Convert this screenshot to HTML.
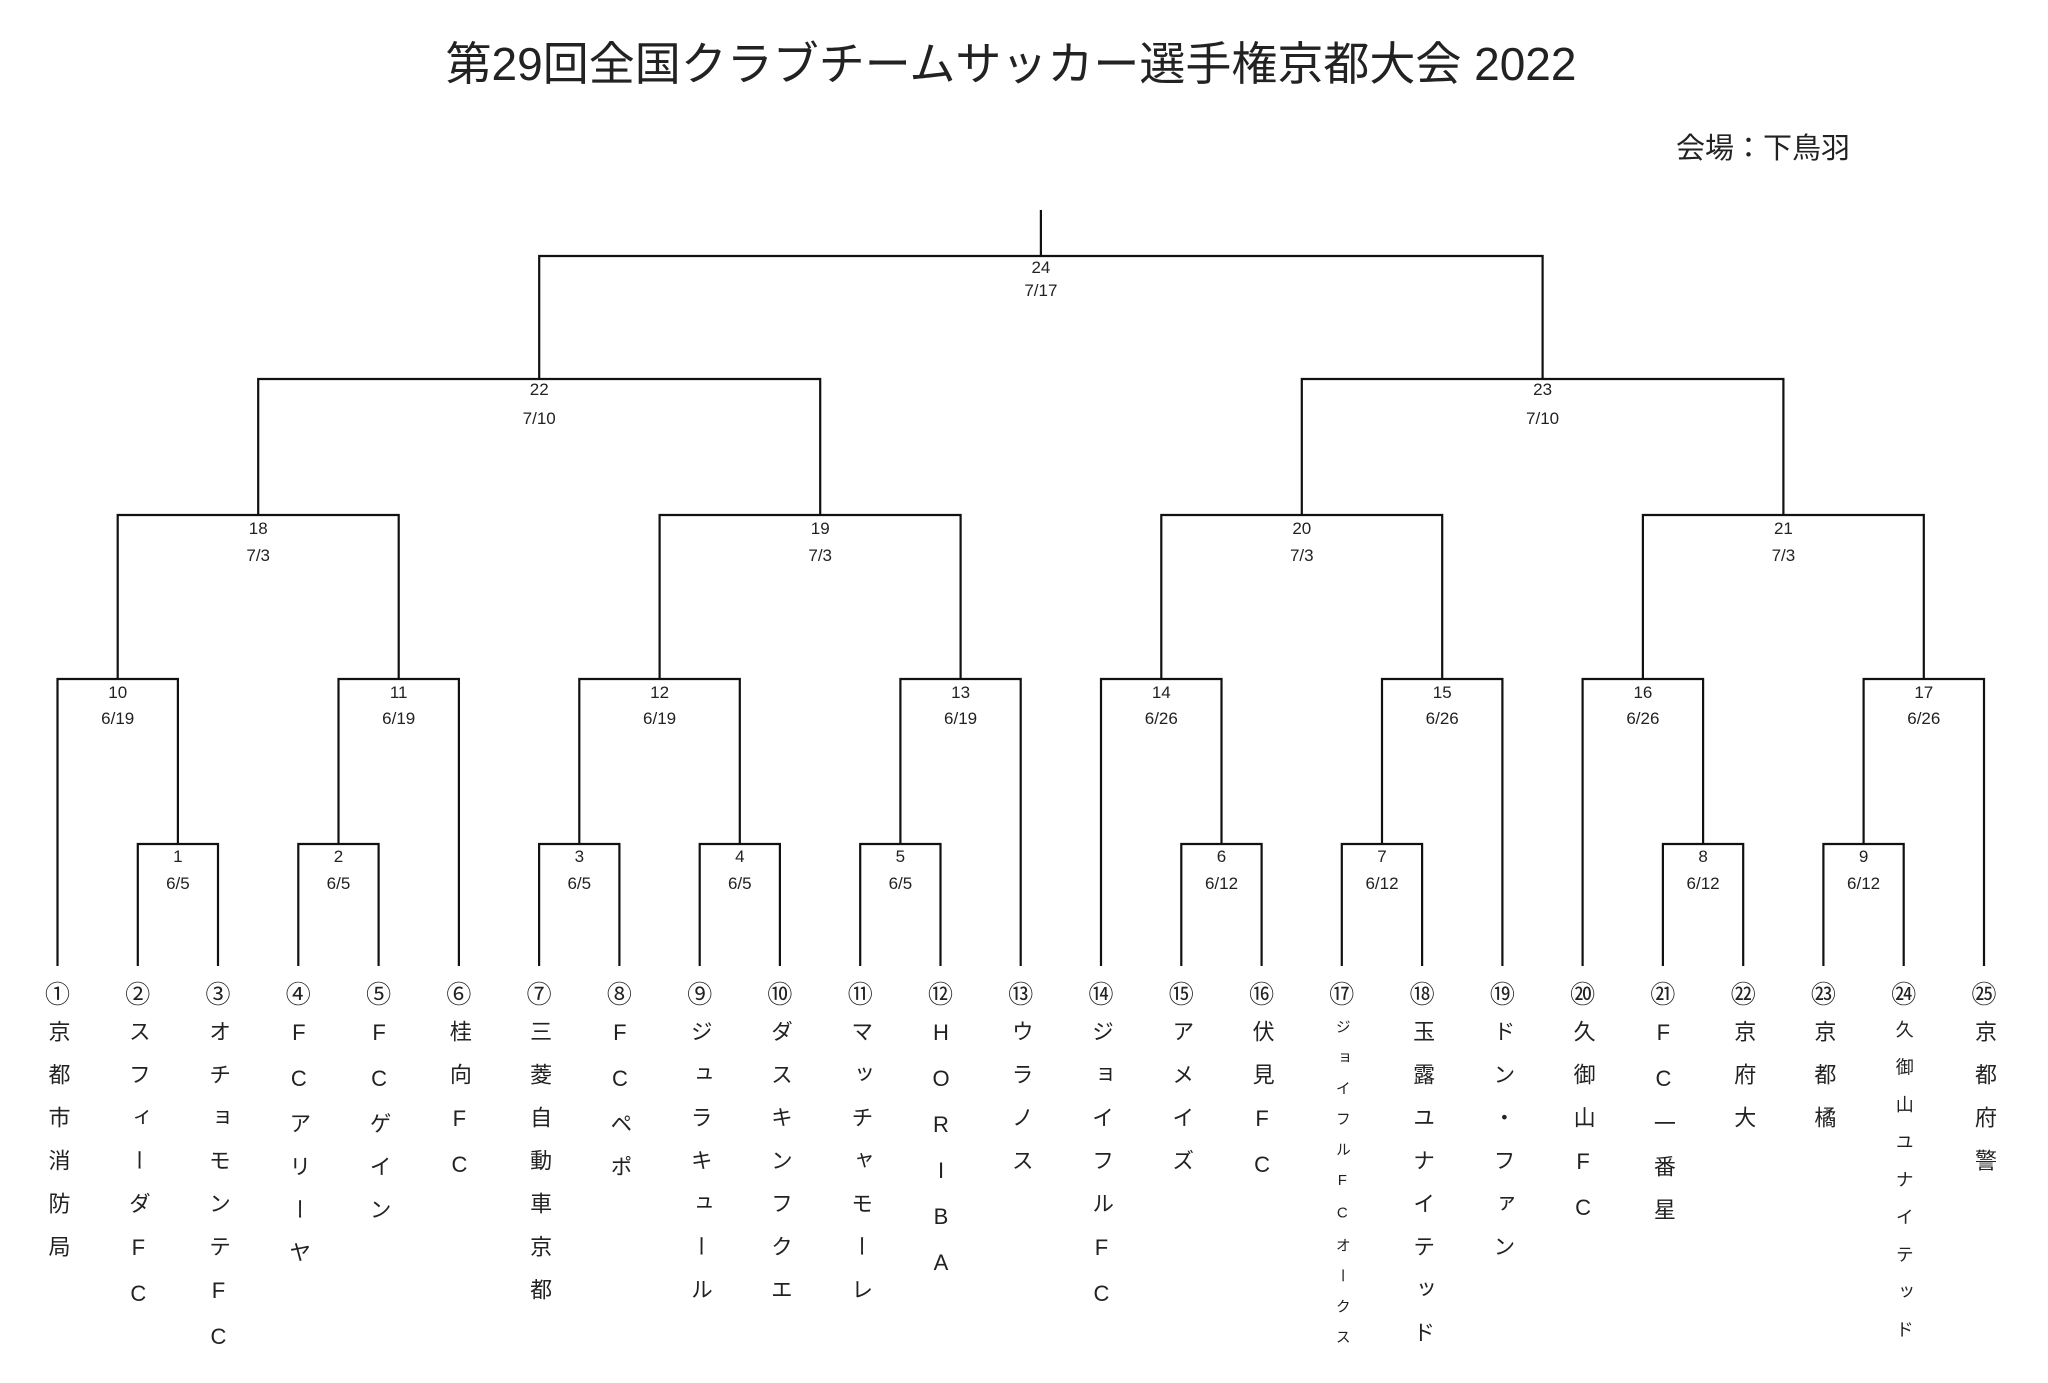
<!DOCTYPE html>
<html><head><meta charset="utf-8">
<style>
html,body{margin:0;padding:0;background:#fff;}
body{width:2048px;height:1383px;position:relative;overflow:hidden;font-family:"Liberation Sans","Noto Sans CJK JP",sans-serif;color:#222;}
.t{position:absolute;white-space:nowrap;}
.v{position:absolute;top:1020px;width:30px;line-height:30px;writing-mode:vertical-rl;text-orientation:upright;font-size:22px;letter-spacing:21px;font-family:"Liberation Sans","Noto Sans CJK JP",sans-serif;color:#222;}
.s{font-size:15px;letter-spacing:15.6px;top:1019px;}
.m{font-size:18px;letter-spacing:19.5px;top:1020px;}
</style></head><body>
<div class="t" style="left:0;width:2022px;text-align:center;top:28px;font-size:46px;">第29回全国クラブチームサッカー選手権京都大会 2022</div>
<div class="t" style="left:1676px;top:125px;font-size:29px;">会場：下鳥羽</div>
<svg width="2048" height="1383" style="position:absolute;left:0;top:0" xmlns="http://www.w3.org/2000/svg">
<g stroke="#111" stroke-width="2.2" fill="none">
<path d="M1040.9 210V256M539.2 379V256H1542.6V379"/>
<path d="M258.2 515V379H820.2V515M1301.8 515V379H1783.4V515"/>
<path d="M117.7 679V515H398.7V679M659.6 679V515H960.6V679M1161.3 679V515H1442.2V679M1642.9 679V515H1923.8V679"/>
<path d="M57.5 966V679H177.9V844M338.5 844V679H458.9V966M579.3 844V679H739.8V844M900.4 844V679H1020.7V966M1101 966V679H1221.5V844M1382 844V679H1502.4V966M1582.6 966V679H1703.1V844M1863.6 844V679H1984V966"/>
<path d="M137.8 966V844H218V966M298.3 966V844H378.6V966M539.1 966V844H619.4V966M699.7 966V844H779.9V966M860.2 966V844H940.5V966M1181.3 966V844H1261.6V966M1341.8 966V844H1422.1V966M1662.9 966V844H1743.2V966M1823.4 966V844H1903.7V966"/>
</g>
<g font-family="Liberation Sans, sans-serif" font-size="17" fill="#222" text-anchor="middle">
<text x="1040.9" y="273">24</text><text x="1040.9" y="296">7/17</text>
<text x="539.2" y="395">22</text><text x="539.2" y="424">7/10</text>
<text x="1542.6" y="395">23</text><text x="1542.6" y="424">7/10</text>
<text x="258.2" y="534">18</text><text x="258.2" y="561">7/3</text>
<text x="820.2" y="534">19</text><text x="820.2" y="561">7/3</text>
<text x="1301.8" y="534">20</text><text x="1301.8" y="561">7/3</text>
<text x="1783.4" y="534">21</text><text x="1783.4" y="561">7/3</text>
<text x="117.7" y="698">10</text><text x="117.7" y="724">6/19</text>
<text x="398.7" y="698">11</text><text x="398.7" y="724">6/19</text>
<text x="659.6" y="698">12</text><text x="659.6" y="724">6/19</text>
<text x="960.6" y="698">13</text><text x="960.6" y="724">6/19</text>
<text x="1161.3" y="698">14</text><text x="1161.3" y="724">6/26</text>
<text x="1442.2" y="698">15</text><text x="1442.2" y="724">6/26</text>
<text x="1642.9" y="698">16</text><text x="1642.9" y="724">6/26</text>
<text x="1923.8" y="698">17</text><text x="1923.8" y="724">6/26</text>
<text x="177.9" y="862">1</text><text x="177.9" y="889">6/5</text>
<text x="338.5" y="862">2</text><text x="338.5" y="889">6/5</text>
<text x="579.3" y="862">3</text><text x="579.3" y="889">6/5</text>
<text x="739.8" y="862">4</text><text x="739.8" y="889">6/5</text>
<text x="900.4" y="862">5</text><text x="900.4" y="889">6/5</text>
<text x="1221.5" y="862">6</text><text x="1221.5" y="889">6/12</text>
<text x="1382" y="862">7</text><text x="1382" y="889">6/12</text>
<text x="1703.1" y="862">8</text><text x="1703.1" y="889">6/12</text>
<text x="1863.6" y="862">9</text><text x="1863.6" y="889">6/12</text>
</g>
<g font-family="Noto Sans CJK JP, sans-serif" font-size="25" fill="#222" text-anchor="middle">
<text x="57.5" y="1003">①</text><text x="137.8" y="1003">②</text><text x="218" y="1003">③</text><text x="298.3" y="1003">④</text><text x="378.6" y="1003">⑤</text><text x="458.9" y="1003">⑥</text><text x="539.1" y="1003">⑦</text><text x="619.4" y="1003">⑧</text><text x="699.7" y="1003">⑨</text><text x="779.9" y="1003">⑩</text><text x="860.2" y="1003">⑪</text><text x="940.5" y="1003">⑫</text><text x="1020.7" y="1003">⑬</text><text x="1101" y="1003">⑭</text><text x="1181.3" y="1003">⑮</text><text x="1261.6" y="1003">⑯</text><text x="1341.8" y="1003">⑰</text><text x="1422.1" y="1003">⑱</text><text x="1502.4" y="1003">⑲</text><text x="1582.6" y="1003">⑳</text><text x="1662.9" y="1003">㉑</text><text x="1743.2" y="1003">㉒</text><text x="1823.4" y="1003">㉓</text><text x="1903.7" y="1003">㉔</text><text x="1984" y="1003">㉕</text>
</g>
</svg>
<div class="v" style="left:42.5px">京都市消防局</div>
<div class="v" style="left:122.8px">スフィーダFC</div>
<div class="v" style="left:203px">オチョモンテFC</div>
<div class="v" style="left:283.3px">FCアリーヤ</div>
<div class="v" style="left:363.6px">FCゲイン</div>
<div class="v" style="left:443.9px">桂向FC</div>
<div class="v" style="left:524.1px">三菱自動車京都</div>
<div class="v" style="left:604.4px">FCペポ</div>
<div class="v" style="left:684.7px">ジュラキュール</div>
<div class="v" style="left:764.9px">ダスキンフクエ</div>
<div class="v" style="left:845.2px">マッチャモーレ</div>
<div class="v" style="left:925.5px">HORIBA</div>
<div class="v" style="left:1005.7px">ウラノス</div>
<div class="v" style="left:1086px">ジョイフルFC</div>
<div class="v" style="left:1166.3px">アメイズ</div>
<div class="v" style="left:1246.6px">伏見FC</div>
<div class="v s" style="left:1326.8px">ジョイフルFCオークス</div>
<div class="v" style="left:1407.1px">玉露ユナイテッド</div>
<div class="v" style="left:1487.4px">ドン・ファン</div>
<div class="v" style="left:1567.6px">久御山FC</div>
<div class="v" style="left:1647.9px">FC一番星</div>
<div class="v" style="left:1728.2px">京府大</div>
<div class="v" style="left:1808.4px">京都橘</div>
<div class="v m" style="left:1888.7px">久御山ユナイテッド</div>
<div class="v" style="left:1969px">京都府警</div>
</body></html>
